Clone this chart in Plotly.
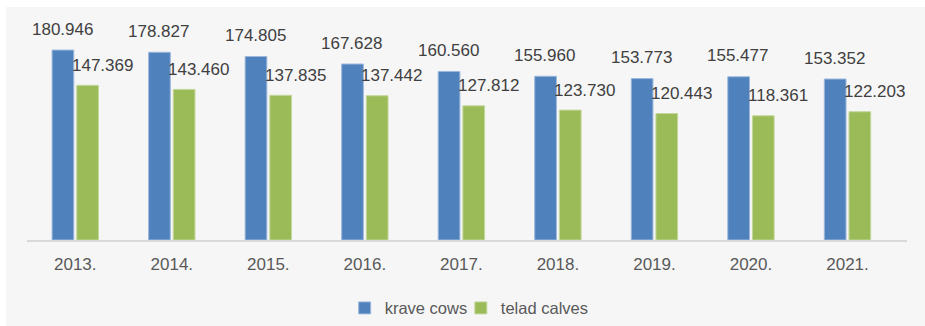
import plotly.graph_objects as go

years = ["2013.", "2014.", "2015.", "2016.", "2017.", "2018.", "2019.", "2020.", "2021."]
krave_cows = [180.946, 178.827, 174.805, 167.628, 160.560, 155.960, 153.773, 155.477, 153.352]
telad_calves = [147.369, 143.460, 137.835, 137.442, 127.812, 123.730, 120.443, 118.361, 122.203]

FONT = "Liberation Sans Narrow, Arial Narrow, Liberation Sans, Arial, sans-serif"
BLUE = "#4f81bd"
GREEN = "#9bbb59"

fig = go.Figure()
fig.add_trace(go.Bar(name="krave cows", x=years, y=krave_cows, legend="legend", showlegend=True,
                     marker=dict(color=BLUE, line=dict(color="#9db8dc", width=1))))
fig.add_trace(go.Bar(name="telad calves", x=years, y=telad_calves, legend="legend2", showlegend=True,
                     marker=dict(color=GREEN, line=dict(color="#c3d79c", width=1))))

annotations = []
for i, v in enumerate(krave_cows):
    annotations.append(dict(x=i, y=v, xref="x", yref="y", text=f"{v:.3f}",
                            showarrow=False, xshift=-13, yshift=21, yanchor="middle",
                            font=dict(family=FONT, size=17, color="#404040")))
for i, v in enumerate(telad_calves):
    annotations.append(dict(x=i, y=v, xref="x", yref="y", text=f"{v:.3f}",
                            showarrow=False, xshift=27, yshift=20, yanchor="middle",
                            font=dict(family=FONT, size=17, color="#404040")))

legend_style = dict(orientation="h", yanchor="middle", y=-0.323, xanchor="left",
                    font=dict(family=FONT, size=16.5, color="#595959"),
                    bgcolor="rgba(0,0,0,0)", visible=True)

fig.update_layout(
    width=925, height=326,
    showlegend=True,
    margin=dict(l=27, r=18, t=29, b=86, autoexpand=False),
    paper_bgcolor="white",
    plot_bgcolor="rgba(0,0,0,0)",
    barmode="group", bargap=0.489, bargroupgap=0.12,
    font=dict(family=FONT, size=17, color="#595959"),
    xaxis=dict(type="category", showline=True, linecolor="#d9d9d9", linewidth=2, ticks="",
               tickfont=dict(family=FONT, size=17, color="#595959"), showgrid=False,
               automargin=False, ticklabelstandoff=8),
    yaxis=dict(visible=False, range=[0, 201], showgrid=False, zeroline=False),
    legend=dict(x=0.361, **legend_style),
    legend2=dict(x=0.493, **legend_style),
    annotations=annotations,
    shapes=[dict(type="rect", xref="paper", yref="paper", x0=-0.0239, x1=1.03,
                 y0=-0.42, y1=1.104, fillcolor="#f6f6f6", line=dict(width=0), layer="below")],
)

fig.write_html("out.html")
